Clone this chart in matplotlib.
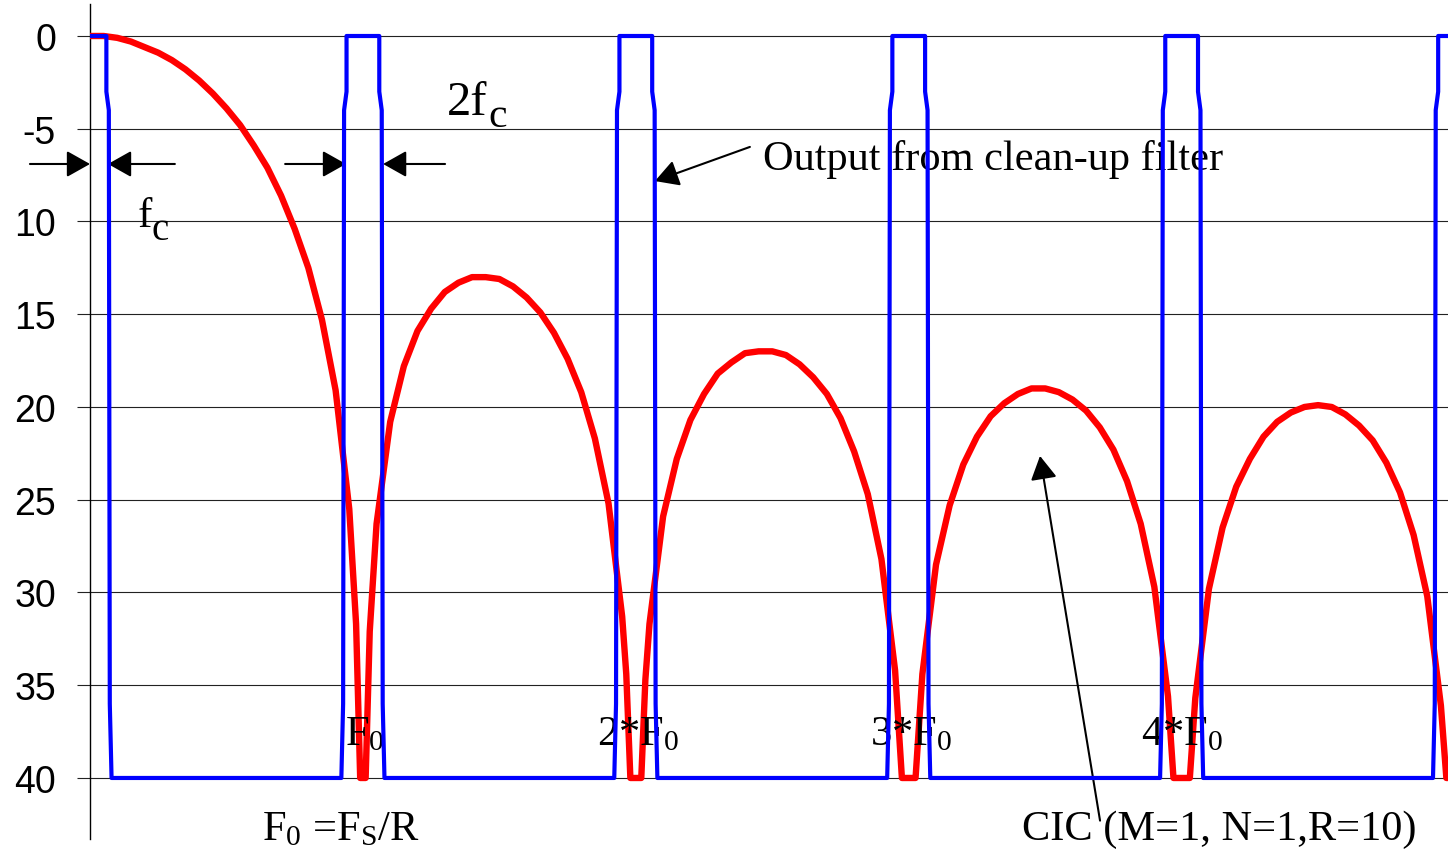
import matplotlib
matplotlib.use("Agg")
import matplotlib.pyplot as plt

# fonts: Arial-like numbers, Times-like annotations
plt.rcParams['font.family'] = ['Liberation Sans', 'DejaVu Sans']
plt.rcParams['mathtext.fontset'] = 'custom'
plt.rcParams['mathtext.rm'] = 'Liberation Serif'
plt.rcParams['mathtext.it'] = 'Liberation Serif:italic'
serif = ['Liberation Serif', 'DejaVu Serif']

# CIC (M=1, N=1, R=10) attenuation in dB, frequency in units of F0
cic_f = [0.00, 0.05, 0.10, 0.15, 0.20, 0.25, 0.30, 0.35, 0.40, 0.45,
         0.50, 0.55, 0.60, 0.65, 0.70, 0.75, 0.80, 0.85, 0.90, 0.95,
         0.975, 0.99, 1.01, 1.025,
         1.05, 1.10, 1.15, 1.20, 1.25, 1.30, 1.35, 1.40, 1.45, 1.50,
         1.55, 1.60, 1.65, 1.70, 1.75, 1.80, 1.85, 1.90, 1.95,
         1.965, 1.98, 2.02, 2.035,
         2.05, 2.10, 2.15, 2.20, 2.25, 2.30, 2.35, 2.40, 2.45, 2.50,
         2.55, 2.60, 2.65, 2.70, 2.75, 2.80, 2.85, 2.90, 2.95,
         2.975, 3.025,
         3.05, 3.10, 3.15, 3.20, 3.25, 3.30, 3.35, 3.40, 3.45, 3.50,
         3.55, 3.60, 3.65, 3.70, 3.75, 3.80, 3.85, 3.90, 3.95,
         3.97, 4.03,
         4.05, 4.10, 4.15, 4.20, 4.25, 4.30, 4.35, 4.40, 4.45, 4.50,
         4.55, 4.60, 4.65, 4.70, 4.75, 4.80, 4.85, 4.90, 4.95,
         4.97, 5.00]
cic_db = [0.0, 0.0, 0.1, 0.3, 0.6, 0.9, 1.3, 1.8, 2.4, 3.1,
          3.9, 4.8, 5.9, 7.1, 8.6, 10.4, 12.5, 15.3, 19.1, 25.5,
          31.7, 40, 40, 32.1,
          26.3, 20.8, 17.8, 15.9, 14.7, 13.8, 13.3, 13.0, 13.0, 13.1,
          13.5, 14.1, 14.9, 16.0, 17.4, 19.2, 21.7, 25.2, 31.3,
          34.4, 40, 40, 34.7,
          31.7, 25.9, 22.8, 20.7, 19.3, 18.2, 17.6, 17.1, 17.0, 17.0,
          17.2, 17.7, 18.4, 19.3, 20.6, 22.4, 24.7, 28.2, 34.2,
          40, 40,
          34.4, 28.5, 25.3, 23.1, 21.6, 20.5, 19.8, 19.3, 19.0, 19.0,
          19.2, 19.6, 20.2, 21.1, 22.3, 24.0, 26.3, 29.7, 35.6,
          40, 40,
          35.7, 29.8, 26.5, 24.3, 22.8, 21.6, 20.8, 20.3, 20.0, 19.9,
          20.0, 20.4, 21.0, 21.8, 23.0, 24.6, 26.9, 30.2, 36.1,
          40, 40]

# clean-up filter output (passbands of +-fc around k*F0)
clean_f = [0.000, 0.060, 0.060, 0.069, 0.0725, 0.079,
           0.921, 0.9275, 0.931, 0.940, 0.940, 1.060, 1.060, 1.069, 1.0725, 1.079,
           1.921, 1.9275, 1.931, 1.940, 1.940, 2.060, 2.060, 2.069, 2.0725, 2.079,
           2.921, 2.9275, 2.931, 2.940, 2.940, 3.060, 3.060, 3.069, 3.0725, 3.079,
           3.921, 3.9275, 3.931, 3.940, 3.940, 4.060, 4.060, 4.069, 4.0725, 4.079,
           4.921, 4.9275, 4.931, 4.940, 4.940, 5.000]
clean_db = [0, 0, 3, 4, 36, 40,
            40, 36, 4, 3, 0, 0, 3, 4, 36, 40,
            40, 36, 4, 3, 0, 0, 3, 4, 36, 40,
            40, 36, 4, 3, 0, 0, 3, 4, 36, 40,
            40, 36, 4, 3, 0, 0, 3, 4, 36, 40,
            40, 36, 4, 3, 0, 0]

y_ticks = [0, 5, 10, 15, 20, 25, 30, 35, 40]
y_labels = ['0', '-5', '10', '15', '20', '25', '30', '35', '40']

fig = plt.figure(figsize=(14.48, 8.53), dpi=100)
ax = fig.add_axes([90 / 1448, 13 / 853, 1358 / 1448, 835 / 853])

ax.plot(cic_f, cic_db, color='#ff0000', lw=4.6, solid_joinstyle='round', zorder=3)
ax.plot(clean_f, clean_db, color='#0000ff', lw=3.0, zorder=4)

ax.set_xlim(0, 4.976)
ax.set_ylim(43.29, -1.725)
ax.set_yticks(y_ticks)
ax.set_yticklabels(y_labels, fontsize=27)
ax.set_xticks([])
ax.tick_params(axis='y', length=9.4, width=0.8, color='#222222', pad=15)
ax.yaxis.grid(True, color='#222222', lw=0.8)
ax.set_axisbelow(True)
for s in ['top', 'right', 'bottom']:
    ax.spines[s].set_visible(False)
ax.spines['left'].set_linewidth(1.0)

# arrows
arw = dict(arrowstyle='-|>,head_length=0.8,head_width=0.45', color='k',
           lw=1.5, shrinkA=0, shrinkB=0, mutation_scale=18)
ax.annotate('', xy=(0.0, 6.9), xytext=(-0.22, 6.9), arrowprops=arw, annotation_clip=False)
ax.annotate('', xy=(0.066, 6.9), xytext=(0.311, 6.9), arrowprops=arw)
ax.annotate('', xy=(0.938, 6.9), xytext=(0.715, 6.9), arrowprops=arw)
ax.annotate('', xy=(1.074, 6.9), xytext=(1.301, 6.9), arrowprops=arw)
ax.annotate('', xy=(2.070, 7.82), xytext=(2.418, 5.98), arrowprops=arw)
ax.annotate('', xy=(3.481, 22.64), xytext=(3.701, 42.3), arrowprops=arw, annotation_clip=False)

# labels
ax.text(1.308, 4.2, '2f', family=serif, fontsize=35)
ax.text(1.458, 4.85, 'c', family=serif, fontsize=30)
ax.text(0.176, 10.24, 'f', family=serif, fontsize=31)
ax.text(0.226, 10.94, 'c', family=serif, fontsize=28)
ax.text(2.466, 7.17, 'Output from clean-up filter', family=serif, fontsize=30.5)

ax.text(0.934, 38.17, r'F$_{\rm 0}$', family=serif, fontsize=30.5)
ax.text(1.858, 38.17, r'2*F$_{\rm 0}$', family=serif, fontsize=30.5)
ax.text(2.858, 38.17, r'3*F$_{\rm 0}$', family=serif, fontsize=30.5)
ax.text(3.851, 38.17, r'4*F$_{\rm 0}$', family=serif, fontsize=30.5)
ax.text(0.630, 43.3, r'F$_{\rm 0}$ =F$_{\rm S}$/R', family=serif, fontsize=30.5, clip_on=False)
ax.text(3.415, 43.3, 'CIC (M=1, N=1,R=10)', family=serif, fontsize=30.5, clip_on=False)

fig.savefig('out.png', dpi=100)
